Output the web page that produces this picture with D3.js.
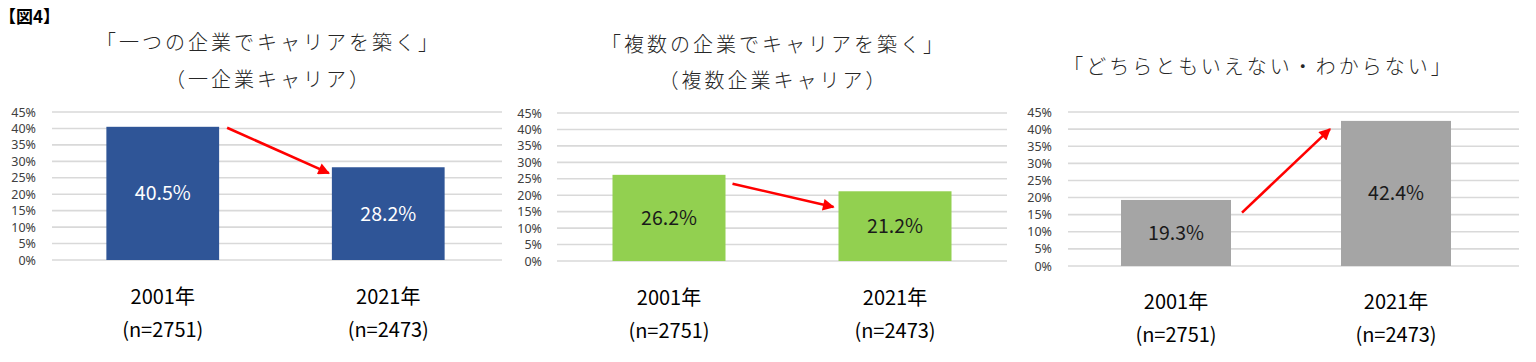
<!DOCTYPE html>
<html><head><meta charset="utf-8">
<script src="https://cdn.jsdelivr.net/npm/d3@7"></script>
<style>
body{margin:0;background:#fff;}
svg{display:block;}
</style></head>
<body>
<svg id="c" width="1536" height="362"></svg>
<script>
const figLabel = "【図4】";
const categories = ["2001年", "2021年"];
const sampleSizes = ["(n=2751)", "(n=2473)"];
const yTicks = [0, 5, 10, 15, 20, 25, 30, 35, 40, 45];
const titles = [
  ["「一つの企業でキャリアを築く」", "（一企業キャリア）"],
  ["「複数の企業でキャリアを築く」", "（複数企業キャリア）"],
  ["「どちらともいえない・わからない」"]
];
const valuesOne = [40.5, 28.2];
const valuesMulti = [26.2, 21.2];
const valuesUnknown = [19.3, 42.4];
// arrow start / end in value units
const arrowOne = [40.2, 26.4];
const arrowMulti = [23.5, 16.4];
const arrowUnknown = [15.6, 40.0];

const panels = [
  {values: valuesOne, arrow: arrowOne, title: titles[0], color: "#2F5597", textColor: "#ffffff",
   x0: 50, x1: 501, gx0: 52, gx1: 502, yTop: 112, yBot: 260, tickX: 36, titleX: 267, titleY: [50, 87],
   catY: [304, 337], arrowDx: [8, -3]},
  {values: valuesMulti, arrow: arrowMulti, title: titles[1], color: "#92D050", textColor: "#1a1a1a",
   x0: 556, x1: 1008, gx0: 557, gx1: 1007, yTop: 113, yBot: 261, tickX: 542, titleX: 772, titleY: [52, 88],
   catY: [305, 338], arrowDx: [7, -5]},
  {values: valuesUnknown, arrow: arrowUnknown, title: titles[2], color: "#A5A5A5", textColor: "#1a1a1a",
   x0: 1066, x1: 1506, gx0: 1068, gx1: 1519, yTop: 112, yBot: 266, tickX: 1052, titleX: 1257, titleY: [74],
   catY: [309, 342], arrowDx: [11, -11]}
];

const svg = d3.select("#c");
const defs = svg.append("defs");
defs.append("marker").attr("id", "ah").attr("viewBox", "0 0 10 10")
  .attr("refX", 9).attr("refY", 5).attr("markerWidth", 5.5).attr("markerHeight", 4.5)
  .attr("markerUnits", "strokeWidth").attr("orient", "auto")
  .append("path").attr("d", "M0,0 L10,5 L0,10 Z").attr("fill", "#FF0000");

svg.append("text").attr("x", -1).attr("y", 23).text(figLabel)
  .attr("font-family", "'Noto Sans CJK JP', sans-serif").attr("font-weight", 700)
  .attr("font-size", 17).attr("fill", "#000");

const jp = "'Noto Sans CJK JP', 'Noto Sans', sans-serif";

panels.forEach(p => {
  const g = svg.append("g");
  const x = d3.scaleBand().domain(categories).range([p.x0, p.x1]).paddingInner(0.5).paddingOuter(0.25);
  const y = d3.scaleLinear().domain([0, 45]).range([p.yBot, p.yTop]);

  // gridlines
  g.selectAll("line.grid").data(yTicks).join("line")
    .attr("x1", p.gx0).attr("x2", p.gx1)
    .attr("y1", d => y(d)).attr("y2", d => y(d))
    .attr("stroke", "#D9D9D9").attr("stroke-width", 1.6);

  // y tick labels via axis
  const ax = g.append("g").attr("transform", `translate(${p.tickX},0)`)
    .call(d3.axisLeft(y).tickValues(yTicks).tickFormat(d => d + "%").tickSize(0).tickPadding(0));
  ax.select(".domain").remove();
  ax.selectAll("text").attr("font-family", "'Noto Sans', sans-serif").attr("font-size", 12.5)
    .attr("fill", "#404040");

  // bars
  g.selectAll("rect.bar").data(p.values).join("rect")
    .attr("x", (d, i) => x(categories[i])).attr("width", x.bandwidth())
    .attr("y", d => y(d)).attr("height", d => y(0) - y(d))
    .attr("fill", p.color);

  // value labels
  g.selectAll("text.val").data(p.values).join("text")
    .attr("x", (d, i) => x(categories[i]) + x.bandwidth() / 2)
    .attr("y", d => (y(d) + y(0)) / 2)
    .attr("dy", "0.36em").attr("text-anchor", "middle")
    .attr("font-family", jp).attr("font-size", 19.5).attr("fill", p.textColor)
    .text(d => d.toFixed(1) + "%");

  // category labels
  categories.forEach((c, i) => {
    const cx = x(c) + x.bandwidth() / 2;
    g.append("text").attr("x", cx).attr("y", p.catY[0]).attr("text-anchor", "middle")
      .attr("font-family", jp).attr("font-size", 20).attr("fill", "#000").text(c);
    g.append("text").attr("x", cx).attr("y", p.catY[1]).attr("text-anchor", "middle")
      .attr("font-family", jp).attr("font-size", 20).attr("fill", "#000").text(sampleSizes[i]);
  });

  // titles
  p.title.forEach((t, i) => {
    g.append("text").attr("x", p.titleX + 1.5).attr("y", p.titleY[i]).attr("text-anchor", "middle")
      .attr("font-family", jp).attr("font-weight", 300).attr("font-size", 20)
      .attr("letter-spacing", 3).attr("fill", "#262626").text(t);
  });

  // arrow
  const xa = x(categories[0]) + x.bandwidth() + p.arrowDx[0];
  const xb = x(categories[1]) + p.arrowDx[1];
  g.append("line").attr("x1", xa).attr("y1", y(p.arrow[0])).attr("x2", xb).attr("y2", y(p.arrow[1]))
    .attr("stroke", "#FF0000").attr("stroke-width", 2.6).attr("marker-end", "url(#ah)");
});
</script>
</body></html>
